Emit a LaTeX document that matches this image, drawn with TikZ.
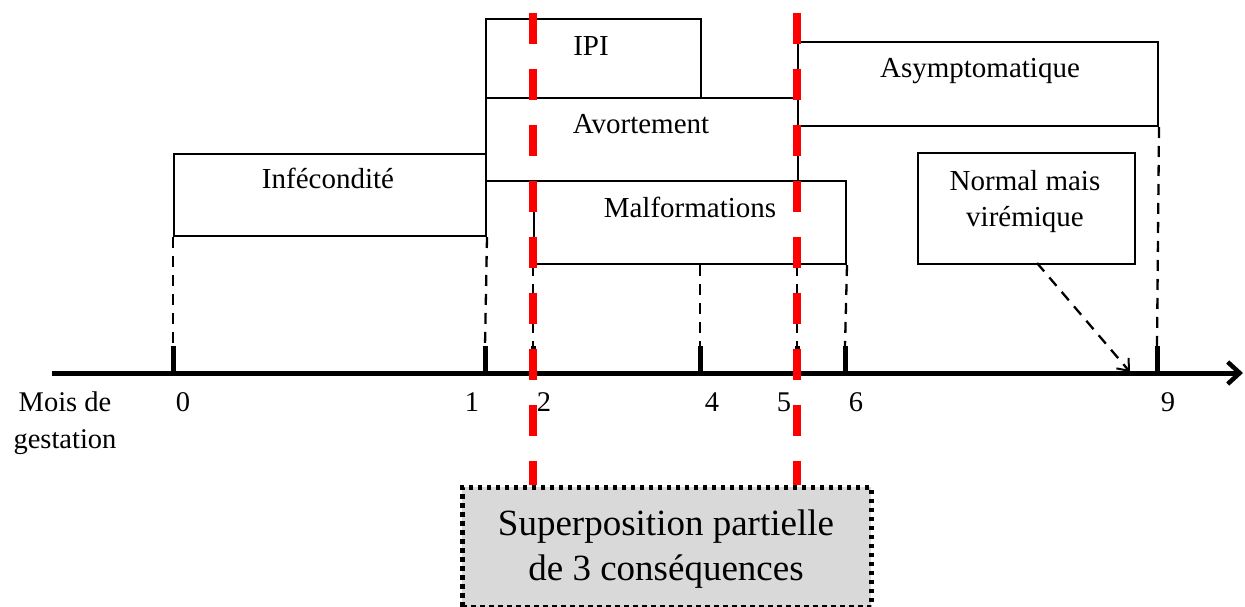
\documentclass[tikz,border=0pt]{standalone}
\usepackage{fontspec}
\setmainfont{Liberation Serif}
\usetikzlibrary{arrows.meta,calc}
\begin{document}
\begin{tikzpicture}[x=1pt,y=-1pt,
  period/.style={draw=black,line width=2pt,rectangle,inner sep=0pt,anchor=north west},
  lbl/.style={font=\fontsize{29}{34}\selectfont,anchor=base,inner sep=0pt},
  axlbl/.style={font=\fontsize{28.5}{34}\selectfont,anchor=base,inner sep=0pt},
  guide/.style={draw=black,line width=2.3pt,dash pattern=on 11pt off 8pt},
  tickmark/.style={line width=5pt},
  limit/.style={draw=red,line width=8pt,dash pattern=on 31pt off 25pt},
  summary/.style={draw=black,fill=black!15,line width=4.5pt,dash pattern=on 4.5pt off 4.5pt,
    rectangle,inner sep=0pt,anchor=north west,minimum width=409pt,minimum height=120pt}]
\useasboundingbox (0,0) rectangle (1245,607);

% time axis
\coordinate (axstart) at (52,373);
\coordinate (axend) at (1243,373);
\draw[line width=5pt,-{Straight Barb[length=12pt,width=22pt,line width=4.5pt]}] (axstart) -- (axend);

% month ticks
\foreach \n/\x in {0/173,1/485,2/533,4/700,5/797,6/845,9/1157}{
  \coordinate (t\n) at (\x,373);
  \coordinate (u\n) at (\x,346);
  \draw[tickmark] (t\n) -- (u\n);
}

% month labels
\node[axlbl] (m0) at (183,411) {0};
\node[axlbl] (m1) at (472,411) {1};
\node[axlbl] (m2) at (544,411) {2};
\node[axlbl] (m4) at (712,411) {4};
\node[axlbl] (m5) at (784,411) {5};
\node[axlbl] (m6) at (856,411) {6};
\node[axlbl] (m9) at (1168,411) {9};
\node[axlbl] (mois) at (65,411) {Mois de};
\node[axlbl] (gest) at (65,448) {gestation};

% periods
\node[period,minimum width=312pt,minimum height=82pt] (inf) at (173,153) {};
\node[period,minimum width=215pt,minimum height=79pt] (ipi) at (485,18) {};
\node[period,minimum width=312pt,minimum height=83pt] (avo) at (485,97) {};
\node[period,minimum width=312pt,minimum height=83pt] (mal) at (533,180) {};
\node[period,minimum width=360pt,minimum height=84pt] (asy) at (797,41) {};
\node[period,minimum width=217pt,minimum height=111pt] (nor) at (917,152) {};

\node[lbl] (infT) at (328,188) {Infécondité};
\node[lbl] (ipiT) at (591,56) {IPI};
\node[lbl] (avoT) at (641,134) {Avortement};
\node[lbl] (malT) at (690,217) {Malformations};
\node[lbl] (asyT) at (980,78) {Asymptomatique};
\node[lbl] (norT1) at (1025,190) {Normal mais};
\node[lbl] (norT2) at (1025,226) {virémique};

% guides from periods to the axis
\draw[guide] (inf.south west) -- (u0);
\draw[guide] (inf.south east) -- (u1);
\draw[guide] (mal.south west) -- (u2);
\draw[guide] (mal.south -| u4) -- (u4);
\draw[guide] (mal.south -| u5) -- (u5);
\draw[guide] (mal.south east) -- (u6);
\draw[guide] (asy.south east) -- (u9);

% pointer from the last box
\coordinate (norTip) at (1130,372);
\draw[guide,-{Straight Barb[length=10pt,width=16pt,line width=2pt]}] (1037,263) -- (norTip);

% overlap limits
\coordinate (la) at (533,13);
\coordinate (lb) at (533,485);
\coordinate (lc) at (797,13);
\coordinate (ld) at (797,485);
\draw[limit] (la) -- (lb);
\draw[limit] (lc) -- (ld);

% summary box
\node[summary] (sum) at (460,485) {};
\node[font=\fontsize{37}{46}\selectfont,anchor=base,inner sep=0pt] (sum1) at (666,535) {Superposition partielle};
\node[font=\fontsize{37}{46}\selectfont,anchor=base,inner sep=0pt] (sum2) at (666,580) {de 3 conséquences};
\end{tikzpicture}
\end{document}
